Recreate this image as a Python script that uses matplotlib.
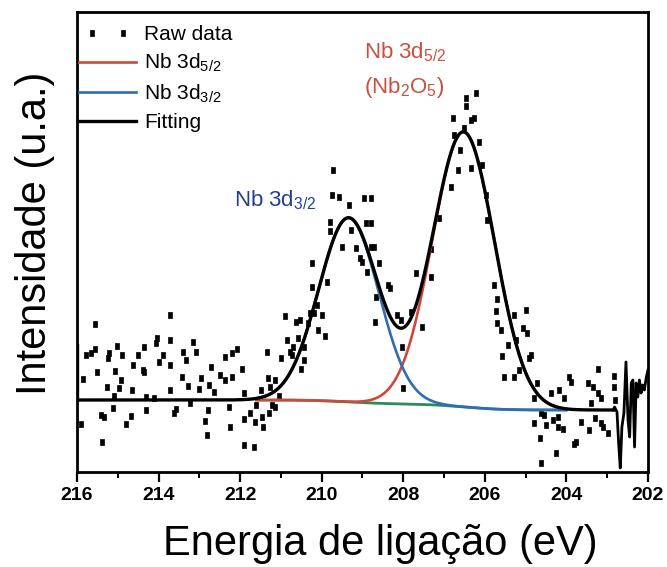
import numpy as np
import matplotlib
matplotlib.use('Agg')
import matplotlib.pyplot as plt
from matplotlib.ticker import MultipleLocator
from matplotlib.legend_handler import HandlerLine2D

plt.rcParams['font.family'] = ['Liberation Sans', 'DejaVu Sans']
plt.rcParams['mathtext.fontset'] = 'custom'
plt.rcParams['mathtext.rm'] = 'Liberation Sans'
plt.rcParams['mathtext.it'] = 'Liberation Sans:italic'
plt.rcParams['mathtext.bf'] = 'Liberation Sans:bold'
plt.rcParams['mathtext.default'] = 'regular'

# ---------------- data ----------------
raw_energy = [
    215.90, 215.86, 215.78, 215.66, 215.57, 215.55, 215.52, 215.41, 215.39, 215.33,
    215.27, 215.23, 215.21, 215.12, 215.10, 215.06, 215.02, 214.98, 214.92, 214.90,
    214.81, 214.67, 214.65, 214.63, 214.50, 214.39, 214.36, 214.35, 214.32, 214.32,
    214.12, 214.06, 214.03, 213.98, 213.88, 213.71, 213.71, 213.71, 213.71, 213.62,
    213.58, 213.42, 213.40, 213.32, 213.28, 213.22, 213.16, 213.09, 213.00, 212.95,
    212.86, 212.81, 212.79, 212.76, 212.71, 212.63, 212.50, 212.38, 212.38, 212.28,
    212.26, 212.20, 212.20, 212.08, 211.95, 211.91, 211.91, 211.91, 211.77, 211.67,
    211.63, 211.60, 211.50, 211.46, 211.44, 211.34, 211.31, 211.30, 211.26, 211.22,
    211.14, 211.14, 211.05, 210.99, 210.91, 210.85, 210.77, 210.72, 210.70, 210.62,
    210.59, 210.54, 210.50, 210.44, 210.44, 210.34, 210.29, 210.23, 210.23, 210.19,
    210.11, 210.10, 209.99, 209.93, 209.87, 209.80, 209.80, 209.74, 209.72, 209.58,
    209.50, 209.33, 209.29, 209.17, 209.05, 209.00, 208.97, 208.92, 208.88, 208.80,
    208.80, 208.80, 208.73, 208.70, 208.68, 208.60, 208.38, 208.33, 208.16, 208.06,
    208.02, 208.00, 207.82, 207.70, 207.53, 207.33, 207.33, 207.12, 206.84, 206.77,
    206.75, 206.67, 206.61, 206.51, 206.47, 206.47, 206.34, 206.33, 206.26, 206.22,
    206.14, 206.06, 205.98, 205.95, 205.77, 205.73, 205.71, 205.71, 205.61, 205.57,
    205.53, 205.44, 205.28, 205.28, 205.24, 205.16, 205.07, 204.99, 204.97, 204.92,
    204.87, 204.79, 204.79, 204.71, 204.64, 204.62, 204.62, 204.54, 204.50, 204.38,
    204.34, 204.26, 204.21, 204.21, 204.17, 204.09, 204.05, 203.93, 203.89, 203.81,
    203.76, 203.64, 203.48, 203.44, 203.40, 203.35, 203.31, 203.22, 203.23, 203.15,
    203.15, 203.11, 202.99, 202.84, 202.84, 202.82,
]
raw_intensity = [
    48, 93, 117, 119, 148, 123, 100, 57, 30, 55,
    85, 114, 119, 64, 76, 101, 126, 84, 92, 117,
    48, 56, 82, 107, 117, 102, 125, 100, 75, 62,
    74, 129, 134, 110, 117, 132, 157, 107, 82, 59,
    63, 95, 120, 112, 86, 69, 130, 120, 83, 94,
    51, 37, 62, 87, 105, 80, 97, 92, 115, 65,
    45, 119, 95, 123, 103, 79, 53, 27, 59, 25,
    50, 67, 82, 55, 45, 120, 94, 59, 85, 67,
    92, 65, 76, 114, 156, 132, 120, 117, 125, 150,
    134, 152, 103, 125, 112, 149, 159, 209, 185, 159,
    167, 142, 157, 136, 190, 250, 241, 277, 302, 275,
    225, 267, 242, 224, 214, 210, 274, 249, 200, 274,
    249, 225, 225, 150, 175, 209, 187, 184, 157, 152,
    125, 84, 160, 199, 145, 195, 223, 254, 285, 354,
    337, 302, 322, 344, 374, 366, 352, 304, 354, 379,
    330, 307, 277, 252, 187, 161, 173, 149, 142, 116,
    95, 127, 157, 95, 132, 102, 144, 162, 139, 114,
    117, 74, 49, 89, 34, 59, 9, 57, 47, 79,
    52, 19, 55, 45, 82, 43, 74, 95, 90, 28,
    30, 50, 89, 42, 69, 85, 54, 103, 79, 74,
    49, 45, 39, 96, 85, 72,
]

# fitted components (Gaussian parameters)
peak_labels = ['Nb 3d$_{5/2}$', 'Nb 3d$_{3/2}$']
peak_centers = [206.52, 209.34]
peak_heights = [275, 184]
peak_sigmas = [0.76, 0.735]
peak_colors = ['#d0483c', '#2f6db5']

background_left = 72     # Shirley background, high binding-energy side
background_right = 62    # Shirley background, low binding-energy side
fit_range = [216.0, 202.85]
component_range = [211.6, 204.0]

edge_energy = [216.0, 216.0]
edge_intensity = [72, 127]

tail_energy = [202.85, 202.82, 202.76, 202.72, 202.68, 202.64, 202.59, 202.54, 202.49,
               202.45, 202.41, 202.37, 202.33, 202.29, 202.25, 202.21, 202.17, 202.13,
               202.09, 202.04, 202.00]
tail_intensity = [62, 65, 60, 29, 4, 45, 59, 110, 52, 35, 89, 92, 25, 89, 75, 92, 79,
                  87, 82, 95, 102]

xticks = [216, 214, 212, 210, 208, 206, 204, 202]

# ---------------- figure ----------------
fig = plt.figure(figsize=(6.67, 5.67), dpi=100)
ax = fig.add_axes([77 / 667, 95 / 567, 571 / 667, 460 / 567])

E = np.linspace(fit_range[0], fit_range[1], 1500)
peaks = [h * np.exp(-(E - c) ** 2 / (2 * s ** 2))
         for c, h, s in zip(peak_centers, peak_heights, peak_sigmas)]
total = peaks[0] + peaks[1]
cum = np.cumsum(total[::-1])[::-1]
bg = background_right + (background_left - background_right) * cum / cum[0]
fit = total + bg
mask = (E <= component_range[0]) & (E >= component_range[1])

# raw data markers: short thick dashes
dash = [(-0.6, -1.0), (0.6, -1.0), (0.6, 1.0), (-0.6, 1.0), (-0.6, -1.0)]
raw_line, = ax.plot(raw_energy, raw_intensity, ls='none', marker=dash, ms=4.6,
                    color='black', mec='black', mew=0.5, label='Raw data', zorder=2)

ax.plot(E[mask], bg[mask], color='#2e8a58', lw=2.0, zorder=3)
for p, lab, col in zip(peaks, peak_labels, peak_colors):
    ax.plot(E[mask], (p + bg)[mask], color=col, lw=1.9, label=lab, zorder=4)
ax.plot(E, fit, color='black', lw=2.4, label='Fitting', zorder=5)
ax.plot(edge_energy, edge_intensity, color='black', lw=2.4, zorder=5)
ax.plot(tail_energy, tail_intensity, color='black', lw=2.0, zorder=5)

ax.set_xlim(216, 202)
ax.set_ylim(0, 460)
ax.set_xticks(xticks)
ax.xaxis.set_minor_locator(MultipleLocator(1))
ax.set_yticks([])
ax.tick_params(axis='x', which='major', direction='out', length=7, width=1.6,
               labelsize=14, pad=4)
ax.tick_params(axis='x', which='minor', direction='out', length=4, width=1.4)
for lab in ax.get_xticklabels():
    lab.set_fontweight('bold')
for s in ax.spines.values():
    s.set_linewidth(2.0)

# annotations
ax.text(211.14, 272, 'Nb 3d$_{3/2}$', color='#23408e', fontsize=16,
        ha='center', va='center')
ax.text(208.97, 420, 'Nb 3d$_{5/2}$', color='#c9503e', fontsize=16,
        ha='left', va='center')
ax.text(208.97, 384, '(Nb$_2$O$_5$)', color='#c9503e', fontsize=16,
        ha='left', va='center')

handles, labels = ax.get_legend_handles_labels()
order = ['Raw data', peak_labels[0], peak_labels[1], 'Fitting']
hmap = dict(zip(labels, handles))
ax.legend([hmap[k] for k in order], order, loc='upper left',
          bbox_to_anchor=(-0.023, 0.992), frameon=False, fontsize=15, numpoints=2,
          handlelength=3.3, handletextpad=0.1, labelspacing=0.39,
          borderaxespad=0.0, borderpad=0.45,
          handler_map={raw_line: HandlerLine2D(numpoints=2, marker_pad=0.9)})

fig.text(0.570, 0.022, 'Energia de ligação (eV)', fontsize=30, ha='center',
         va='baseline')
fig.text(0.052, 0.589, 'Intensidade (u.a.)', fontsize=30, ha='center',
         va='center', rotation=90)

fig.savefig('out.png', dpi=100)
